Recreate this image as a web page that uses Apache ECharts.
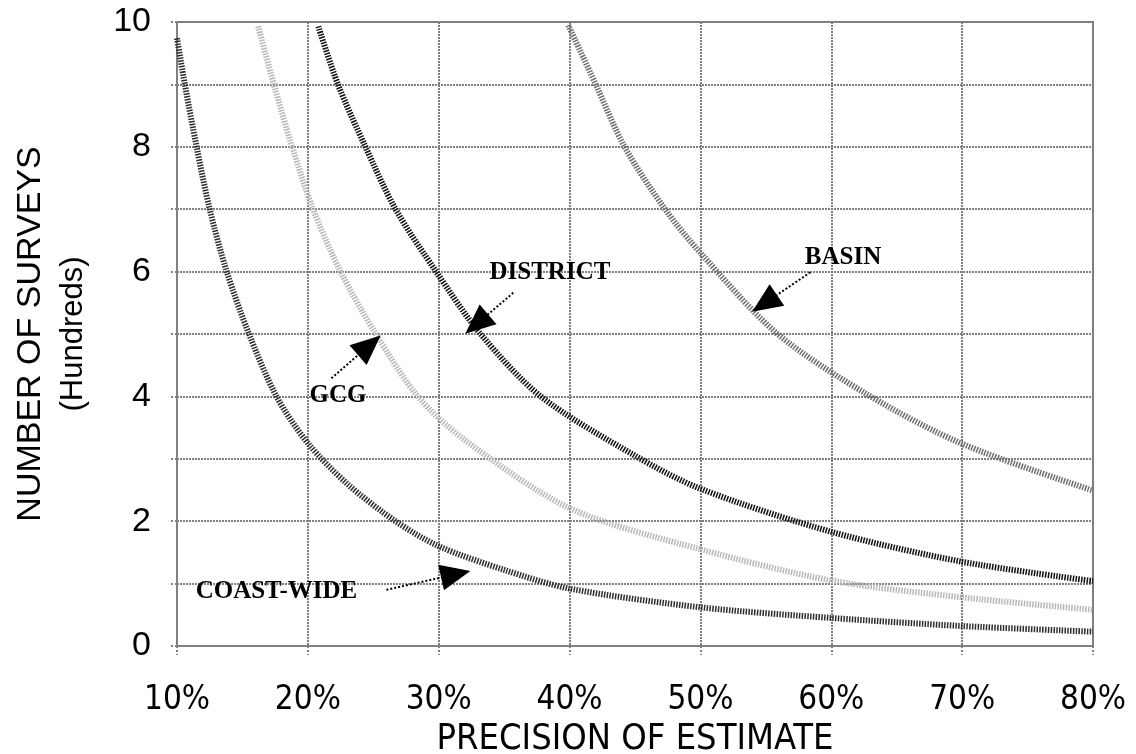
<!DOCTYPE html>
<html><head><meta charset="utf-8">
<script src="https://cdn.jsdelivr.net/npm/echarts@6/dist/echarts.min.js"></script>
<style>html,body{margin:0;padding:0;background:#fff}#c{width:1136px;height:754px}</style>
</head><body><div id="c"></div>
<script>
// Precision (%) and number of surveys (hundreds)
const coastP    = [10, 10.6, 11.5, 12.5, 13.8, 15.5, 17.6, 20, 23, 26.7, 30, 35, 40, 50, 60, 70, 80];
const coastN    = [9.74, 9, 8, 7, 6, 5, 4, 3.25, 2.6, 2, 1.6, 1.22, 0.92, 0.62, 0.45, 0.32, 0.23];
const gcgP      = [16.2, 17.4, 18.8, 20.4, 22.5, 25.2, 28.4, 32, 40, 50, 60, 70, 80];
const gcgN      = [9.93, 9, 8, 7, 6, 5, 4, 3.3, 2.21, 1.55, 1.05, 0.78, 0.58];
const districtP = [20.8, 22.3, 24.4, 26.7, 29.8, 33.2, 37.8, 45, 50, 60, 70, 80];
const districtN = [9.93, 9, 8, 7, 6, 5, 4, 3.05, 2.52, 1.83, 1.35, 1.04];
const basinP    = [39.9, 42, 44.2, 47.3, 50, 55.9, 63, 70, 80];
const basinN    = [9.95, 9, 8, 7, 6.3, 5, 4, 3.24, 2.49];

const seriesNames = ['COAST-WIDE', 'GCG', 'DISTRICT', 'BASIN'];
const xTicks = [10, 20, 30, 40, 50, 60, 70, 80];
const yTicks = [0, 2, 4, 6, 8, 10];

// annotation anchors in data units (precision %, hundreds)
const labelAt   = [[17.6, 0.87], [22.3, 4.02], [38.5, 5.99], [60.9, 6.23]];
const arrowFrom = [[26.0, 0.90], [21.8, 4.29], [35.7, 5.66], [58.4, 5.99]];
const arrowTo   = [[31.3, 1.15], [24.7, 4.82], [32.9, 5.16], [54.9, 5.49]];

const colors = ['#2e2e2e', '#b8b8b8', '#111111', '#6e6e6e'];
const xs = [coastP, gcgP, districtP, basinP];
const ys = [coastN, gcgN, districtN, basinN];

const narrow = 'Liberation Sans Narrow, Arial Narrow, DejaVu Sans Condensed, Liberation Sans, Arial';

const series = seriesNames.map((name, i) => ({
  name: name,
  type: 'line',
  smooth: 0.3,
  symbol: 'none',
  clip: true,
  data: xs[i].map((p, k) => [p, ys[i][k]]),
  lineStyle: { color: colors[i], width: 6, type: [1.5, 1.3], cap: 'butt' },
  markLine: {
    silent: true,
    symbol: ['none', 'triangle'],
    symbolSize: [26, 30],
    label: { show: false },
    lineStyle: { color: '#000', width: 2, type: [2, 2] },
    itemStyle: { color: '#000' },
    data: [[{ coord: arrowFrom[i] }, { coord: arrowTo[i] }]]
  },
  markPoint: {
    silent: true,
    symbol: 'circle',
    symbolSize: 1,
    itemStyle: { color: 'rgba(0,0,0,0)' },
    label: {
      show: true, position: 'inside', formatter: name,
      fontFamily: 'Liberation Serif, Times New Roman, serif',
      fontWeight: 'bold', fontSize: 25, color: '#000'
    },
    data: [{ coord: labelAt[i] }]
  }
}));

const chart = echarts.init(document.getElementById('c'), null, { renderer: 'canvas' });
chart.setOption({
  animation: false,
  backgroundColor: '#fff',
  grid: { left: 177, right: 43, top: 22, bottom: 108, show: true, borderColor: '#808080', borderWidth: 2,
          containLabel: false, outerBoundsMode: 'none' },
  xAxis: {
    type: 'value', min: 10, max: 80, interval: 10,
    name: 'PRECISION OF ESTIMATE', nameLocation: 'middle', nameGap: 76,
    nameTextStyle: { fontFamily: narrow, fontSize: 36, color: '#000' },
    axisLine: { show: true, lineStyle: { color: '#808080', width: 2 } },
    axisTick: { show: true, inside: false, length: 9, lineStyle: { color: '#808080', width: 2, type: [2, 2] } },
    axisLabel: {
      margin: 38, fontSize: 33, color: '#000', fontFamily: narrow,
      formatter: v => xTicks.includes(v) ? v + '%' : ''
    },
    splitLine: { show: true, lineStyle: { color: '#808080', width: 2, type: [2, 1] } }
  },
  yAxis: {
    type: 'value', min: 0, max: 10, interval: 1,
    name: '{a|NUMBER OF SURVEYS}\n{b|(Hundreds)}', nameLocation: 'middle', nameGap: 83, nameRotate: 90,
    nameTextStyle: { fontFamily: 'Liberation Sans, Arial', color: '#000',
      rich: { a: { fontSize: 34, lineHeight: 42, fontFamily: 'Liberation Sans, Arial', color: '#000' },
              b: { fontSize: 31, lineHeight: 42, fontFamily: 'Liberation Sans, Arial', color: '#000' } } },
    axisLine: { show: true, lineStyle: { color: '#808080', width: 2 } },
    axisTick: { show: true, inside: false, length: 8, lineStyle: { color: '#808080', width: 2, type: [2, 2] } },
    axisLabel: {
      margin: 26, fontSize: 34, color: '#000', fontFamily: 'Liberation Sans, Arial',
      formatter: v => yTicks.includes(v) ? String(v) : ''
    },
    splitLine: { show: true, lineStyle: { color: '#808080', width: 2, type: [2, 1] } }
  },
  series: series
});
</script></body></html>
